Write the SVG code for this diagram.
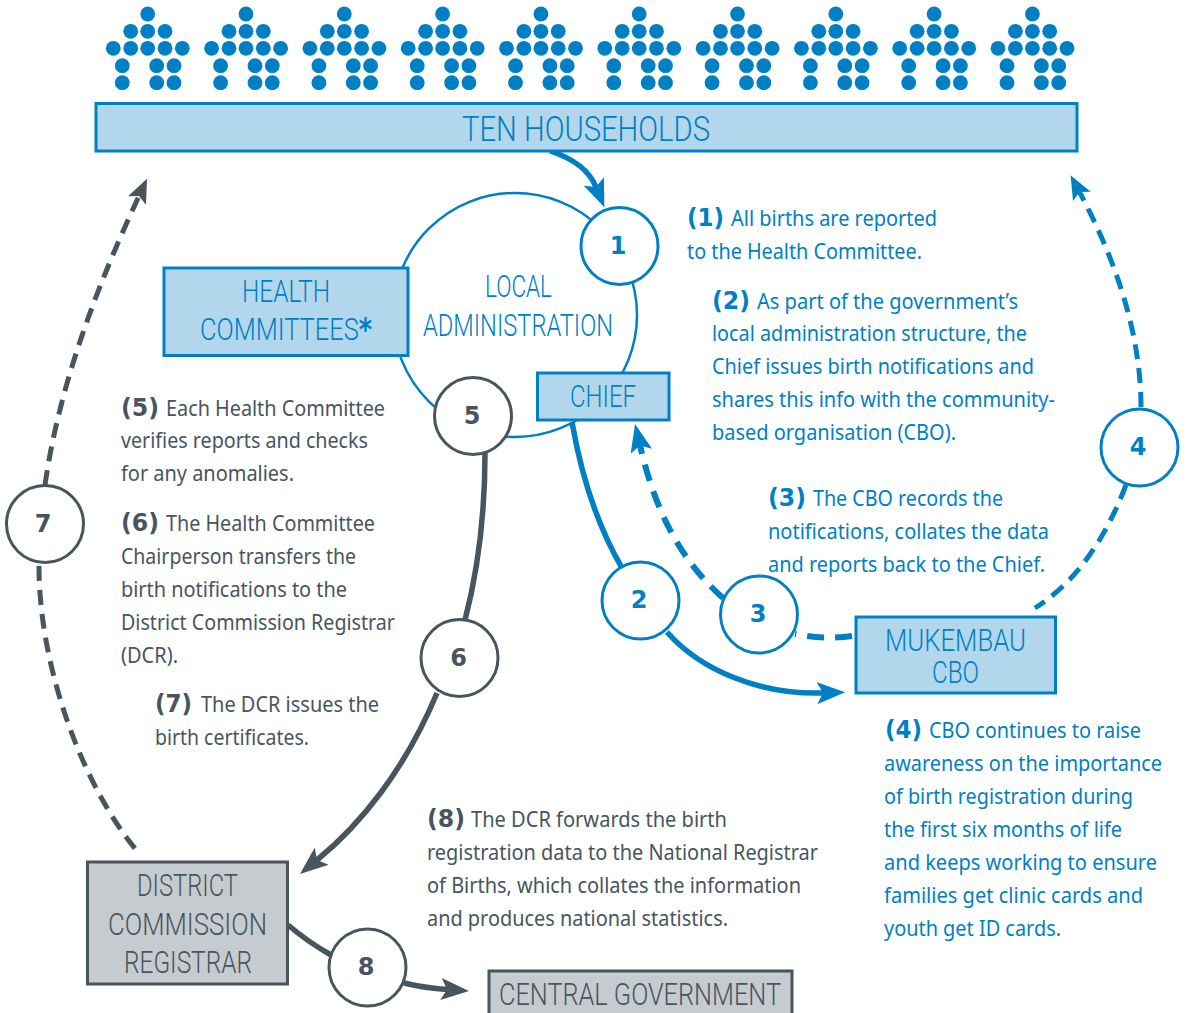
<svg xmlns="http://www.w3.org/2000/svg" width="1187" height="1013" viewBox="0 0 1187 1013">
<style>
text{font-family:"Noto Sans","Open Sans","Liberation Sans",sans-serif}
.b{fill:#0080C4}.g{fill:#47555F}
.t{font-size:21px}
.n{font-family:"DejaVu Sans",sans-serif;font-weight:700;font-size:25.5px}
.d{font-family:"DejaVu Sans",sans-serif;font-weight:700;font-size:24px;text-anchor:middle}
.h{font-family:Roboto,"Open Sans",sans-serif;font-weight:300;font-size:32px}
.boxb{fill:#B2D6EC;stroke:#0080C4;stroke-width:3}
.boxg{fill:#C5CBCE;stroke:#47555F;stroke-width:3}
.cb{fill:#fff;stroke:#0080C4;stroke-width:3}
.cg{fill:#fff;stroke:#47555F;stroke-width:3}
.lb{fill:none;stroke:#0080C4}
.lg{fill:none;stroke:#47555F}
.dash{stroke-dasharray:15 9;stroke-width:5}
.dash3{stroke-dasharray:17 11;stroke-width:6}
.solid{stroke-width:5.5}
.ast{font-family:"DejaVu Sans",sans-serif;font-weight:700}
</style>
<defs>
<marker id="ab" markerUnits="userSpaceOnUse" markerWidth="28" markerHeight="22" refX="6" refY="11" orient="auto"><path d="M28 11L0 0L6 11L0 22Z" fill="#0080C4"/></marker>
<marker id="ag" markerUnits="userSpaceOnUse" markerWidth="28" markerHeight="22" refX="6" refY="11" orient="auto"><path d="M28 11L0 0L6 11L0 22Z" fill="#47555F"/></marker>
<marker id="sb" markerUnits="userSpaceOnUse" markerWidth="24" markerHeight="20" refX="5" refY="10" orient="auto"><path d="M24 10L0 0L5 10L0 20Z" fill="#0080C4"/></marker>
<marker id="sg" markerUnits="userSpaceOnUse" markerWidth="24" markerHeight="20" refX="5" refY="10" orient="auto"><path d="M24 10L0 0L5 10L0 20Z" fill="#47555F"/></marker>
<g id="house" class="b">
<circle cx="147.7" cy="14" r="7.4"/>
<circle cx="130.7" cy="31.3" r="7.4"/><circle cx="147.7" cy="31.3" r="7.4"/><circle cx="165" cy="31.3" r="7.4"/>
<circle cx="113.3" cy="48.3" r="7.4"/><circle cx="130.7" cy="48.3" r="7.4"/><circle cx="147.7" cy="48.3" r="7.4"/><circle cx="165" cy="48.3" r="7.4"/><circle cx="182.3" cy="48.3" r="7.4"/>
<circle cx="122.3" cy="65.7" r="7.4"/><circle cx="156.7" cy="65.7" r="7.4"/><circle cx="174" cy="65.7" r="7.4"/>
<circle cx="122.3" cy="82.7" r="7.4"/><circle cx="156.7" cy="82.7" r="7.4"/><circle cx="174" cy="82.7" r="7.4"/>
</g>
</defs>

<g id="houses">
<use href="#house"/>
<use href="#house" x="98.3"/>
<use href="#house" x="196.6"/>
<use href="#house" x="294.9"/>
<use href="#house" x="393.2"/>
<use href="#house" x="491.5"/>
<use href="#house" x="589.8"/>
<use href="#house" x="688.1"/>
<use href="#house" x="786.4"/>
<use href="#house" x="884.7"/>
</g>

<g id="node-local-administration">
<circle cx="515" cy="315" r="122" fill="none" stroke="#0080C4" stroke-width="2.5"/>
<text class="h b" x="485" y="297" textLength="67" lengthAdjust="spacingAndGlyphs">LOCAL</text>
<text class="h b" x="423" y="336" textLength="190" lengthAdjust="spacingAndGlyphs">ADMINISTRATION</text>
</g>

<g id="connectors">
<path class="lb solid" d="M550 151C572 158 589 170 596 187" marker-end="url(#ab)"/>
<path class="lb solid" d="M572 422C582 480 600 530 622 568"/>
<path class="lb solid" d="M667 632C700 670 760 695 823 693" marker-end="url(#ab)"/>
<path class="lb dash3" d="M723 598C680 560 655 510 640 445.5" marker-end="url(#ab)"/>
<path class="lb dash3" d="M852 636Q825 640 795 634"/>
<path class="lb dash" d="M1126 485C1105 540 1075 583 1035 608"/>
<path class="lb dash" d="M1141 407C1141 330 1113 255 1079.5 192" marker-end="url(#sb)"/>
<path class="lg solid" d="M485 453C485 510 478 570 465 620"/>
<path class="lg solid" d="M437 693C405 770 360 825 317 860" marker-end="url(#ag)"/>
<path class="lg dash" d="M45 485C60 380 100 280 139 196" marker-end="url(#sg)"/>
<path class="lg dash" d="M39 566C39 670 85 790 138 852"/>
<path class="lg solid" d="M288 925Q308 942 331 955"/>
<path class="lg solid" d="M404 983Q425 988 447 989.5" marker-end="url(#ag)"/>
</g>

<g id="node-ten-households"><rect class="boxb" x="96" y="103.5" width="981" height="47.5"/>
<text class="h b" style="font-size:35px" x="462" y="141" textLength="248" lengthAdjust="spacingAndGlyphs">TEN HOUSEHOLDS</text></g>

<g id="node-health-committees"><rect class="boxb" x="164" y="268" width="244" height="87.5"/>
<text class="h b" x="242" y="302" textLength="88" lengthAdjust="spacingAndGlyphs">HEALTH</text>
<text class="h b" x="200" y="340" textLength="172" lengthAdjust="spacingAndGlyphs">COMMITTEES<tspan class="ast" font-size="32">*</tspan></text></g>

<g id="node-chief"><rect class="boxb" x="537.5" y="373" width="131.5" height="47"/>
<text class="h b" x="570" y="407" textLength="66" lengthAdjust="spacingAndGlyphs">CHIEF</text></g>

<g id="node-mukembau-cbo"><rect class="boxb" x="856" y="617" width="199.5" height="76"/>
<text class="h b" x="885" y="651" textLength="141" lengthAdjust="spacingAndGlyphs">MUKEMBAU</text>
<text class="h b" x="932" y="683" textLength="47" lengthAdjust="spacingAndGlyphs">CBO</text></g>

<g id="node-district"><rect class="boxg" x="87.5" y="862" width="200" height="122"/>
<text class="h g" x="137" y="896" textLength="101" lengthAdjust="spacingAndGlyphs">DISTRICT</text>
<text class="h g" x="108" y="935" textLength="159" lengthAdjust="spacingAndGlyphs">COMMISSION</text>
<text class="h g" x="124" y="973" textLength="128" lengthAdjust="spacingAndGlyphs">REGISTRAR</text></g>

<g id="node-central-government"><rect class="boxg" x="489" y="971" width="303" height="60"/>
<text class="h g" x="499" y="1005" textLength="282" lengthAdjust="spacingAndGlyphs">CENTRAL GOVERNMENT</text></g>

<g id="node-1"><circle class="cb" cx="619.5" cy="246" r="38.5"/><text class="d b" x="618" y="254">1</text></g>
<g id="node-2"><circle class="cb" cx="640.5" cy="600.5" r="38.5"/><text class="d b" x="639" y="608">2</text></g>
<g id="node-3"><circle class="cb" cx="759" cy="614.5" r="38.5"/><text class="d b" x="758" y="622">3</text></g>
<g id="node-4"><circle class="cb" cx="1139.5" cy="447.5" r="38.5"/><text class="d b" x="1138" y="455">4</text></g>
<g id="node-5"><circle class="cg" cx="473" cy="416" r="38.5"/><text class="d g" x="472" y="424">5</text></g>
<g id="node-6"><circle class="cg" cx="459.5" cy="658" r="38.5"/><text class="d g" x="458.5" y="666">6</text></g>
<g id="node-7"><circle class="cg" cx="45" cy="524" r="38.5"/><text class="d g" x="43" y="532">7</text></g>
<g id="node-8"><circle class="cg" cx="367.5" cy="967.5" r="38.5"/><text class="d g" x="366" y="975">8</text></g>

<g id="notes">
<text class="n b" x="687" y="226" textLength="37" lengthAdjust="spacingAndGlyphs">(1)</text>
<text class="t b" x="731" y="226" textLength="206" lengthAdjust="spacingAndGlyphs">All births are reported</text>
<text class="t b" x="687" y="259" textLength="235" lengthAdjust="spacingAndGlyphs">to the Health Committee.</text>

<text class="n b" x="712" y="309" textLength="38" lengthAdjust="spacingAndGlyphs">(2)</text>
<text class="t b" x="757" y="309" textLength="261" lengthAdjust="spacingAndGlyphs">As part of the government’s</text>
<text class="t b" x="712" y="341" textLength="315" lengthAdjust="spacingAndGlyphs">local administration structure, the</text>
<text class="t b" x="712" y="374" textLength="322" lengthAdjust="spacingAndGlyphs">Chief issues birth notifications and</text>
<text class="t b" x="712" y="407" textLength="343" lengthAdjust="spacingAndGlyphs">shares this info with the community-</text>
<text class="t b" x="712" y="440" textLength="244" lengthAdjust="spacingAndGlyphs">based organisation (CBO).</text>

<text class="n b" x="768" y="506" textLength="38" lengthAdjust="spacingAndGlyphs">(3)</text>
<text class="t b" x="813" y="506" textLength="190" lengthAdjust="spacingAndGlyphs">The CBO records the</text>
<text class="t b" x="768" y="539" textLength="281" lengthAdjust="spacingAndGlyphs">notifications, collates the data</text>
<text class="t b" x="768" y="572" textLength="277" lengthAdjust="spacingAndGlyphs">and reports back to the Chief.</text>

<text class="n b" x="885" y="738" textLength="37" lengthAdjust="spacingAndGlyphs">(4)</text>
<text class="t b" x="929" y="738" textLength="212" lengthAdjust="spacingAndGlyphs">CBO continues to raise</text>
<text class="t b" x="884" y="771" textLength="278" lengthAdjust="spacingAndGlyphs">awareness on the importance</text>
<text class="t b" x="884" y="804" textLength="249" lengthAdjust="spacingAndGlyphs">of birth registration during</text>
<text class="t b" x="884" y="837" textLength="238" lengthAdjust="spacingAndGlyphs">the first six months of life</text>
<text class="t b" x="884" y="870" textLength="273" lengthAdjust="spacingAndGlyphs">and keeps working to ensure</text>
<text class="t b" x="884" y="903" textLength="259" lengthAdjust="spacingAndGlyphs">families get clinic cards and</text>
<text class="t b" x="884" y="936" textLength="177" lengthAdjust="spacingAndGlyphs">youth get ID cards.</text>

<text class="n g" x="121" y="416" textLength="38" lengthAdjust="spacingAndGlyphs">(5)</text>
<text class="t g" x="166" y="416" textLength="219" lengthAdjust="spacingAndGlyphs">Each Health Committee</text>
<text class="t g" x="121" y="448" textLength="247" lengthAdjust="spacingAndGlyphs">verifies reports and checks</text>
<text class="t g" x="121" y="481" textLength="173" lengthAdjust="spacingAndGlyphs">for any anomalies.</text>

<text class="n g" x="121" y="531" textLength="38" lengthAdjust="spacingAndGlyphs">(6)</text>
<text class="t g" x="166" y="531" textLength="209" lengthAdjust="spacingAndGlyphs">The Health Committee</text>
<text class="t g" x="121" y="564" textLength="235" lengthAdjust="spacingAndGlyphs">Chairperson transfers the</text>
<text class="t g" x="121" y="597" textLength="226" lengthAdjust="spacingAndGlyphs">birth notifications to the</text>
<text class="t g" x="121" y="630" textLength="274" lengthAdjust="spacingAndGlyphs">District Commission Registrar</text>
<text class="t g" x="121" y="663" textLength="57" lengthAdjust="spacingAndGlyphs">(DCR).</text>

<text class="n g" x="155" y="712" textLength="37" lengthAdjust="spacingAndGlyphs">(7)</text>
<text class="t g" x="201" y="712" textLength="178" lengthAdjust="spacingAndGlyphs">The DCR issues the</text>
<text class="t g" x="155" y="745" textLength="154" lengthAdjust="spacingAndGlyphs">birth certificates.</text>

<text class="n g" x="427" y="827" textLength="38" lengthAdjust="spacingAndGlyphs">(8)</text>
<text class="t g" x="471" y="827" textLength="256" lengthAdjust="spacingAndGlyphs">The DCR forwards the birth</text>
<text class="t g" x="427" y="860" textLength="391" lengthAdjust="spacingAndGlyphs">registration data to the National Registrar</text>
<text class="t g" x="427" y="893" textLength="374" lengthAdjust="spacingAndGlyphs">of Births, which collates the information</text>
<text class="t g" x="427" y="926" textLength="301" lengthAdjust="spacingAndGlyphs">and produces national statistics.</text>
</g>
</svg>
